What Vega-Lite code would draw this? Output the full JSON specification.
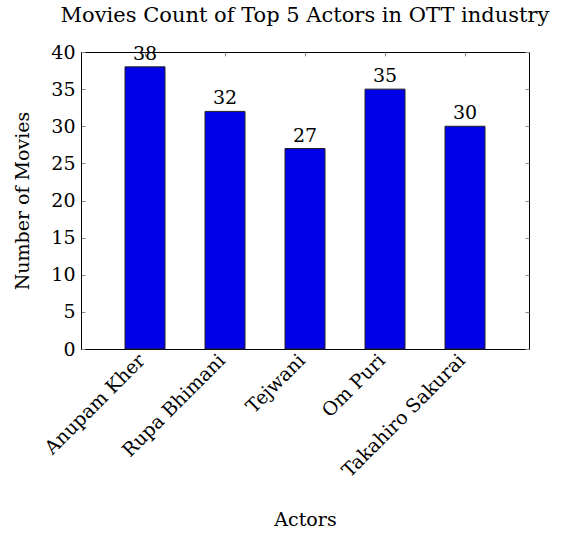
{
  "$schema": "https://vega.github.io/schema/vega-lite/v6.json",
  "autosize": "none",
  "width": 448,
  "height": 297,
  "padding": {"left": 81, "top": 52, "right": 37, "bottom": 186},
  "background": "white",
  "config": {
    "font": "DejaVu Serif",
    "view": {"stroke": "black", "strokeWidth": 1},
    "axis": {"grid": false, "domainColor": "black", "tickColor": "#888888", "labelColor": "black", "titleColor": "black", "labelFont": "DejaVu Serif", "titleFont": "DejaVu Serif", "labelFontSize": 19, "titleFontSize": 19, "titleFontWeight": "normal"}
  },
  "title": {"text": "Movies Count of Top 5 Actors in OTT industry", "fontSize": 21, "fontWeight": "normal", "font": "DejaVu Serif", "color": "black", "offset": 17},
  "data": {"values": [
    {"actor": "Anupam Kher", "count": 38},
    {"actor": "Rupa Bhimani", "count": 32},
    {"actor": "Tejwani", "count": 27},
    {"actor": "Om Puri", "count": 35},
    {"actor": "Takahiro Sakurai", "count": 30}
  ]},
  "encoding": {
    "x": {"field": "actor", "type": "nominal", "sort": null,
      "scale": {"paddingInner": 0.5, "paddingOuter": 0.55}},
    "y": {"field": "count", "type": "quantitative", "scale": {"domain": [0, 40], "nice": false}}
  },
  "layer": [
    {
      "mark": {"type": "bar", "color": "#0000e6", "stroke": "#222222", "strokeWidth": 1},
      "encoding": {
        "x": {"field": "actor", "type": "nominal", "sort": null, "title": "Actors",
          "axis": {"labelAngle": -45, "labelAlign": "right", "labelBaseline": "middle", "labelPadding": 12, "labelOffset": -3, "tickSize": -4, "domain": true, "titleY": 170, "titleBaseline": "middle"}},
        "y": {"field": "count", "type": "quantitative", "title": "Number of Movies",
          "axis": {"values": [0,5,10,15,20,25,30,35,40], "tickSize": -4, "labelPadding": 10, "titleX": -59, "titleBaseline": "middle"}}
      }
    },
    {
      "mark": {"type": "text", "dy": -7, "baseline": "alphabetic", "fontSize": 19, "font": "DejaVu Serif", "color": "black"},
      "encoding": {
        "text": {"field": "count", "type": "quantitative"},
        "x": {"field": "actor", "type": "nominal", "sort": null,
          "axis": {"orient": "top", "labels": false, "title": null, "tickSize": -4, "domain": false}},
        "y": {"field": "count", "type": "quantitative",
          "axis": {"orient": "right", "labels": false, "title": null, "values": [0,5,10,15,20,25,30,35,40], "tickSize": -4, "domain": false}}
      }
    }
  ],
  "resolve": {"axis": {"x": "independent", "y": "independent"}}
}
